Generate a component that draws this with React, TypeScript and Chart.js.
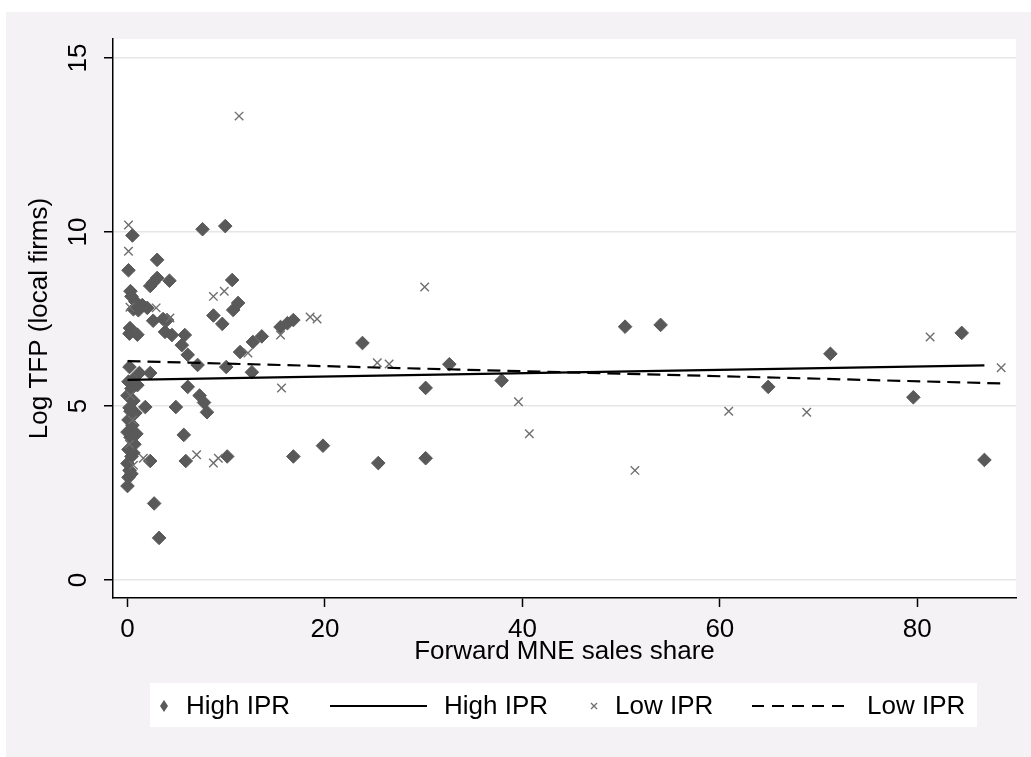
import React, { useEffect, useRef } from "react";
import { Chart, registerables } from "chart.js";

Chart.register(...registerables);

const FONT = '"Liberation Sans", Arial, Helvetica, sans-serif';

// High IPR scatter (diamonds)
const highX = [
  0.5, 0.1, 0.3, 0.4, 0.6, 1.0, 1.5, 2.0, 0.25, 0.2, 1.0, 0.2, 1.2, 2.3,
  0.1, 0.4, 0.0, 0.6, 0.2, 0.8, 0.1, 0.5, 0.0, 0.3, 0.7, 0.1, 0.4, 0.0, 0.2, 0.1, 0.0, 1.0, 0.9,
  3.0, 3.0, 4.25, 2.3, 2.6, 2.6, 3.6, 4.0, 3.8, 4.5, 5.8, 5.5, 6.1, 7.1, 7.6, 9.9, 10.6, 10.7, 11.2,
  8.7, 9.6, 10.0, 11.4, 12.7, 13.6, 15.5, 16.2, 16.8, 12.6, 6.1, 7.3, 7.75, 8.05, 1.8, 4.9, 5.7, 5.9,
  2.3, 2.7, 3.2, 10.1, 16.8, 19.8, 23.8, 25.4, 30.2, 30.2, 32.6, 37.9, 50.4, 54.0, 64.9, 71.2, 79.6,
  84.5, 86.8, 0.5, 0.3, 0.6, 0.4, 1.1, 0.8,
];
const highY = [
  9.9, 8.9, 8.3, 8.15, 7.78, 7.85, 7.9, 7.82, 7.24, 7.08, 7.05, 6.12, 5.95, 5.95,
  5.7, 5.5, 5.3, 5.15, 4.95, 4.8, 4.6, 4.45, 4.25, 4.1, 3.9, 3.75, 3.55, 3.35, 3.15, 2.95, 2.7, 5.6, 4.2,
  9.2, 8.68, 8.6, 8.45, 8.55, 7.45, 7.5, 7.47, 7.13, 7.04, 7.04, 6.75, 6.47, 6.18, 10.08, 10.17, 8.62, 7.76, 7.96,
  7.6, 7.36, 6.12, 6.55, 6.84, 7.0, 7.27, 7.38, 7.47, 5.97, 5.55, 5.3, 5.1, 4.82, 4.97, 4.97, 4.17, 3.42,
  3.42, 2.2, 1.21, 3.55, 3.55, 3.86, 6.81, 3.36, 3.5, 5.52, 6.2, 5.73, 7.28, 7.33, 5.55, 6.5, 5.25,
  7.1, 3.45, 5.75, 4.85, 3.65, 3.05, 7.75, 8.0,
];

// Low IPR scatter (crosses)
const lowX = [
  0.1, 0.1, 0.25, 2.9, 4.3, 8.7, 9.8, 11.3, 12.2, 15.5, 15.6, 18.5, 19.2, 25.3, 26.5, 30.1,
  39.6, 40.7, 51.4, 60.9, 68.8, 81.3, 88.5, 1.6, 7.0, 8.7, 9.2, 0.3, 0.5, 0.2, 0.6,
];
const lowY = [
  10.2, 9.45, 7.84, 7.82, 7.53, 8.15, 8.3, 13.33, 6.52, 7.04, 5.52, 7.56, 7.5, 6.24, 6.21, 8.42,
  5.12, 4.2, 3.15, 4.85, 4.82, 6.98, 6.1, 3.5, 3.6, 3.36, 3.5, 5.3, 4.6, 3.9, 3.3,
];

// Fitted lines
const fitHighX = [0, 86.8];
const fitHighY = [5.75, 6.17];
const fitLowX = [0, 88.5];
const fitLowY = [6.29, 5.65];

const xTicks = [0, 20, 40, 60, 80];
const yTicks = [0, 5, 10, 15];
const xTitle = "Forward MNE sales share";
const yTitle = "Log TFP (local firms)";
const legendLabels = ["High IPR", "High IPR", "Low IPR", "Low IPR"];

const toPts = (xs: number[], ys: number[]) => xs.map((x, i) => ({ x, y: ys[i] }));

const DIAMOND = "#595959";
const CROSS = "#6e6e6e";

const bgPlugin = {
  id: "stataBg",
  beforeDraw(chart: any) {
    const { ctx, width, height, chartArea } = chart;
    ctx.save();
    ctx.fillStyle = "#ffffff";
    ctx.fillRect(0, 0, width, height);
    ctx.fillStyle = "#f5f2f5";
    ctx.fillRect(6, 12, width - 6, height - 12);
    ctx.fillStyle = "#ffffff";
    ctx.fillRect(chartArea.left, chartArea.top, chartArea.right - chartArea.left, chartArea.bottom - chartArea.top);
    ctx.restore();
  },
};

const legendPlugin = {
  id: "stataLegend",
  afterDraw(chart: any) {
    const { ctx } = chart;
    ctx.save();
    ctx.fillStyle = "#ffffff";
    ctx.fillRect(150, 683, 827, 44);
    const cy = 706;
    // diamond
    ctx.fillStyle = DIAMOND;
    ctx.beginPath();
    ctx.moveTo(164, cy - 6);
    ctx.lineTo(168, cy);
    ctx.lineTo(164, cy + 6);
    ctx.lineTo(160, cy);
    ctx.closePath();
    ctx.fill();
    // solid line
    ctx.strokeStyle = "#000";
    ctx.lineWidth = 2;
    ctx.beginPath();
    ctx.moveTo(330, cy);
    ctx.lineTo(427, cy);
    ctx.stroke();
    // cross
    ctx.strokeStyle = CROSS;
    ctx.lineWidth = 1.3;
    ctx.beginPath();
    ctx.moveTo(591, cy - 3);
    ctx.lineTo(597, cy + 3);
    ctx.moveTo(597, cy - 3);
    ctx.lineTo(591, cy + 3);
    ctx.stroke();
    // dashed line
    ctx.strokeStyle = "#000";
    ctx.lineWidth = 2;
    ctx.setLineDash([12, 8]);
    ctx.beginPath();
    ctx.moveTo(752, cy);
    ctx.lineTo(848, cy);
    ctx.stroke();
    ctx.setLineDash([]);
    // texts
    ctx.fillStyle = "#000";
    ctx.font = `26px ${FONT}`;
    ctx.textAlign = "left";
    ctx.textBaseline = "middle";
    const xs = [186, 444, 615, 867];
    legendLabels.forEach((t, i) => ctx.fillText(t, xs[i], cy + 1));
    ctx.restore();
  },
};

export default function App() {
  const ref = useRef<HTMLCanvasElement | null>(null);

  useEffect(() => {
    if (!ref.current) return;
    const font = { family: FONT, size: 26 };
    const chart = new Chart(ref.current, {
      type: "scatter",
      data: {
        datasets: [
          {
            label: legendLabels[3],
            data: toPts(fitLowX, fitLowY),
            showLine: true,
            borderColor: "#000",
            borderWidth: 2.2,
            borderDash: [13, 7],
            pointRadius: 0,
            fill: false,
          },
          {
            label: legendLabels[2],
            data: toPts(lowX, lowY),
            pointStyle: "crossRot",
            pointRadius: 6,
            borderColor: CROSS,
            backgroundColor: CROSS,
            borderWidth: 1.4,
            showLine: false,
          },
          {
            label: legendLabels[1],
            data: toPts(fitHighX, fitHighY),
            showLine: true,
            borderColor: "#000",
            borderWidth: 2.2,
            pointRadius: 0,
            fill: false,
          },
          {
            label: legendLabels[0],
            data: toPts(highX, highY),
            pointStyle: "rectRot",
            pointRadius: 6.8,
            backgroundColor: DIAMOND,
            borderColor: DIAMOND,
            borderWidth: 1,
            showLine: false,
          },
        ],
      },
      options: {
        responsive: false,
        animation: false,
        layout: { padding: { left: 0, top: 39, right: 15, bottom: 0 } },
        plugins: {
          legend: { display: false },
          tooltip: { enabled: false },
        },
        scales: {
          x: {
            type: "linear",
            min: -1.47,
            max: 90.0,
            afterBuildTicks: (s: any) => {
              s.ticks = xTicks.map((v) => ({ value: v }));
            },
            afterFit: (s: any) => {
              s.height = 159;
            },
            grid: { drawOnChartArea: false, tickColor: "#000", tickLength: 9, tickWidth: 1.5 },
            border: { display: true, color: "#000", width: 1.5 },
            ticks: { padding: 7, font, color: "#000", maxRotation: 0, minRotation: 0 },
            title: { display: true, text: xTitle, font, color: "#000", padding: { top: 0, bottom: 90 } },
          },
          y: {
            type: "linear",
            min: -0.517,
            max: 15.546,
            afterBuildTicks: (s: any) => {
              s.ticks = yTicks.map((v) => ({ value: v }));
            },
            afterFit: (s: any) => {
              s.width = 113;
            },
            grid: { color: "#e6e6e6", lineWidth: 1.5, tickColor: "#000", tickLength: 9, tickWidth: 1.5 },
            border: { display: true, color: "#000", width: 1.5 },
            ticks: {
              minRotation: 90,
              maxRotation: 90,
              crossAlign: "center",
              padding: 11,
              font,
              color: "#000",
            },
            title: { display: true, text: yTitle, font, color: "#000", padding: { top: 24, bottom: 0 } },
          },
        },
      } as any,
      plugins: [bgPlugin, legendPlugin],
    });
    return () => chart.destroy();
  }, []);

  return (
    <div style={{ position: "absolute", left: 0, top: 0, width: 1031, height: 757 }}>
      <canvas ref={ref} width={1031} height={757} style={{ width: 1031, height: 757, display: "block" }} />
    </div>
  );
}
